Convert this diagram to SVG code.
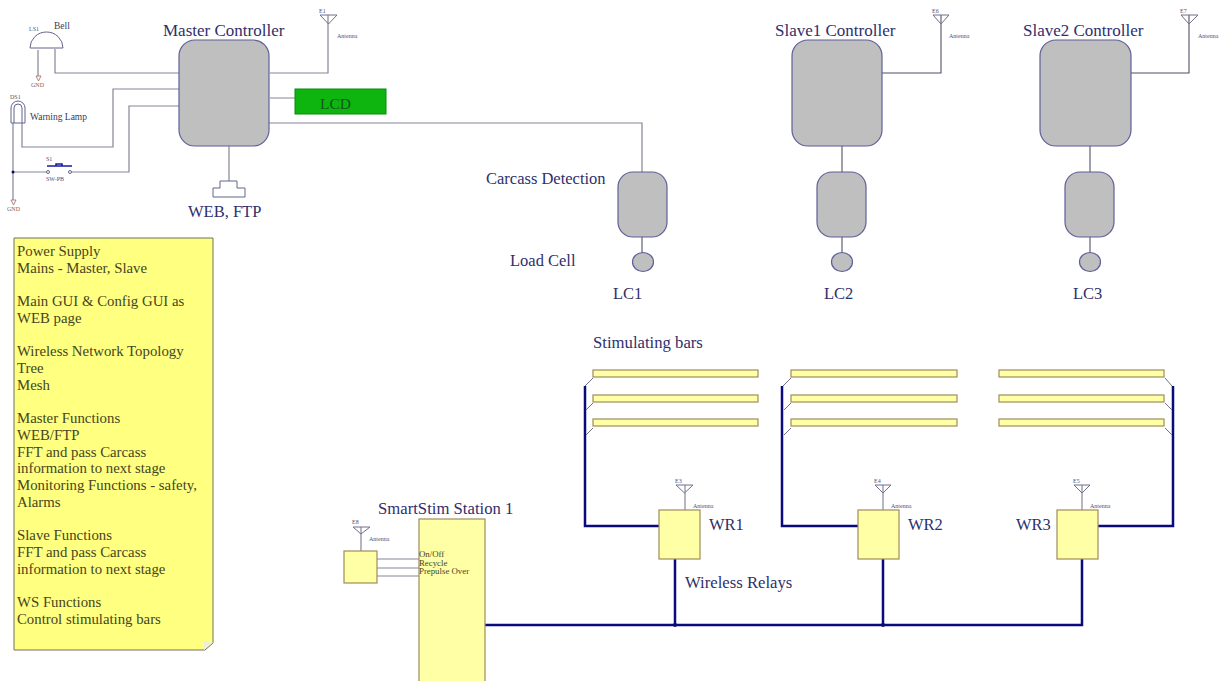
<svg xmlns="http://www.w3.org/2000/svg" width="1226" height="681" viewBox="0 0 1226 681">
<style>
text{font-family:"Liberation Serif","Times New Roman",serif}
.t{font-size:16.5px;fill:#2f2f6b}
.n{font-size:14.8px;fill:#45451f}
.s{font-size:9.500px;fill:#3a3a55}
.p{font-size:8.800px;fill:#45451f}
.x{font-size:6px;fill:#50507a}
.g{font-size:6px;fill:#8a5a50}
.w{fill:none;stroke:#85859a;stroke-width:1.2}
.d{fill:none;stroke:#50506a;stroke-width:1.1}
.b{fill:none;stroke:#0a0a7a;stroke-width:2.5}
.c{fill:#bfbfbf;stroke:#5f5f9a;stroke-width:1.2}
.y{fill:#ffffa6;stroke:#a08c5a;stroke-width:1.2}
.a{fill:none;stroke:#70708a;stroke-width:1}
.r{fill:none;stroke:#a06a60;stroke-width:.8}
</style>
<rect width="1226" height="681" fill="#fff"/>
<g id="connectors">
<path class="w" d="M55 49V73H179M179 89H113V147H22V122M179 106H129V172H70M48 172H13M13 122V200M38 50V76M229 146V181M270 73H328V15M270 98H295M269 123H642V172"/>
<path class="d" d="M642 237V253M842 146V172M842 237V253M1090 146V172M1090 237V253M882 73H941V15M1131 73H1189V15"/>
<path class="w" d="M377 559H419M377 568H419M377 576H419M361 551V527"/>
<path class="b" d="M485 625H1082V559M675 559V625M883 559V625M660 526H585V386M858 526H782V386M1098 526H1173V386"/>
<path class="a" d="M593 378L585 386M593 403L586 410M593 428L586 435M791 378L783 386M791 403L784 410M791 428L784 435M1165 378L1172 386M1165 403L1172 410M1165 428L1172 435"/>
<path class="a" d="M685 485V510M883 485V510M1082 485V510"/>
<circle cx="13" cy="172" r="1.500" fill="#0a0a7a"/>
<circle cx="675" cy="625" r="2" fill="#0a0a7a"/>
<circle cx="883" cy="625" r="2" fill="#0a0a7a"/>
</g>
<g id="bell">
<path d="M30 48A16.500 16 0 0 1 63 48Z" fill="#fff" stroke="#65658a"/>
<path class="r" d="M36 76H41L38.500 81Z"/>
<text class="x" x="29" y="31">LS1</text>
<text class="s" x="54" y="29">Bell</text>
<text class="g" x="31" y="87">GND</text>
</g>
<g id="lamp">
<path d="M11 123V108A7 7 0 0 1 25 108V123Z" fill="#fff" stroke="#65658a"/>
<path d="M14 123V108A4 4 0 0 1 22 108V123" fill="none" stroke="#65658a"/>
<text class="x" x="10" y="99">DS1</text>
<text class="s" x="30" y="120">Warning Lamp</text>
</g>
<g id="switch">
<path d="M47 166H72M56 166V164H62V166" fill="none" stroke="#1a1aa0" stroke-width="1.600"/>
<circle cx="48" cy="172" r="1.500" fill="#fff" stroke="#65658a"/>
<circle cx="70" cy="172" r="1.500" fill="#fff" stroke="#65658a"/>
<text class="x" x="46" y="161">S1</text>
<text class="x" x="46" y="181">SW-PB</text>
</g>
<g id="gnd">
<path class="r" d="M11 200H16L13.500 205Z"/>
<text class="g" x="7" y="211">GND</text>
</g>
<g id="master">
<rect class="c" x="179" y="40" width="90" height="106" rx="16"/>
<text class="t" x="163" y="36" style="font-size:17px">Master Controller</text>
</g>
<g id="antenna1">
<path class="a" d="M320 15H337L328.500 24Z"/>
<text class="x" x="319" y="13">E1</text>
<text class="x" x="337" y="38">Antenna</text>
</g>
<g id="lcd">
<rect x="295" y="89" width="91" height="25" fill="#0fb50f" stroke="#0a8a0a"/>
<text x="320" y="109" font-size="15.500" fill="#0d5a1a">LCD</text>
</g>
<g id="web">
<path d="M220 181H237V188H245V197H213V188H220Z" fill="#fff" stroke="#65658a"/>
<text class="t" x="188" y="217">WEB, FTP</text>
</g>
<g id="note">
<path d="M14 238H213V643L205 650H14Z" fill="#ffff80" stroke="#707060" stroke-width="1"/>
<path d="M204 650L204 641L213 642Z" fill="#eeeeda"/>
<text class="n"><tspan x="17" y="256">Power Supply</tspan><tspan x="17" y="272.700">Mains - Master, Slave</tspan><tspan x="17" y="306">Main GUI &amp; Config GUI as</tspan><tspan x="17" y="323">WEB page</tspan><tspan x="17" y="356">Wireless Network Topology</tspan><tspan x="17" y="373">Tree</tspan><tspan x="17" y="389.500">Mesh</tspan><tspan x="17" y="423">Master Functions</tspan><tspan x="17" y="440">WEB/FTP</tspan><tspan x="17" y="456.500">FFT and pass Carcass</tspan><tspan x="17" y="473">information to next stage</tspan><tspan x="17" y="490">Monitoring Functions - safety,</tspan><tspan x="17" y="506.500">Alarms</tspan><tspan x="17" y="540">Slave Functions</tspan><tspan x="17" y="556.500">FFT and pass Carcass</tspan><tspan x="17" y="573.500">information to next stage</tspan><tspan x="17" y="607">WS Functions</tspan><tspan x="17" y="623.500">Control stimulating bars</tspan></text>
</g>
<g id="carcass">
<rect class="c" x="618" y="172" width="49" height="65" rx="15"/>
<text class="t" x="486" y="184">Carcass Detection</text>
</g>
<g id="lc1">
<ellipse class="c" cx="643" cy="262" rx="10.500" ry="9.500"/>
<text class="t" x="510" y="266">Load Cell</text>
<text class="t" x="613" y="299">LC1</text>
</g>
<g id="slave1">
<rect class="c" x="792" y="40" width="90" height="106" rx="16"/>
<text class="t" x="775" y="36" style="font-size:17px">Slave1 Controller</text>
</g>
<g id="antenna2">
<path class="a" d="M933 15H949L941 24Z"/>
<text class="x" x="932" y="13">E6</text>
<text class="x" x="949" y="38">Antenna</text>
</g>
<g id="detector2"><rect class="c" x="817" y="172" width="49" height="65" rx="15"/></g>
<g id="lc2">
<ellipse class="c" cx="842" cy="262" rx="10.500" ry="9.500"/>
<text class="t" x="824" y="299">LC2</text>
</g>
<g id="slave2">
<rect class="c" x="1040" y="40" width="91" height="106" rx="16"/>
<text class="t" x="1023" y="36" style="font-size:17px">Slave2 Controller</text>
</g>
<g id="antenna3">
<path class="a" d="M1181 15H1198L1189 24Z"/>
<text class="x" x="1180" y="13">E7</text>
<text class="x" x="1198" y="38">Antenna</text>
</g>
<g id="detector3"><rect class="c" x="1065" y="172" width="49" height="65" rx="15"/></g>
<g id="lc3">
<ellipse class="c" cx="1090" cy="262" rx="10.500" ry="9.500"/>
<text class="t" x="1073" y="299">LC3</text>
</g>
<g id="bars">
<text class="t" x="593" y="348" style="font-size:16.7px">Stimulating bars</text>
<rect class="y" x="593" y="370" width="165" height="7"/>
<rect class="y" x="593" y="395" width="165" height="7"/>
<rect class="y" x="593" y="419" width="165" height="7"/>
<rect class="y" x="791" y="370" width="166" height="7"/>
<rect class="y" x="791" y="395" width="166" height="7"/>
<rect class="y" x="791" y="419" width="166" height="7"/>
<rect class="y" x="999" y="370" width="165" height="7"/>
<rect class="y" x="999" y="395" width="165" height="7"/>
<rect class="y" x="999" y="419" width="165" height="7"/>
</g>
<g id="wr1">
<rect class="y" x="659" y="510" width="41" height="49"/>
<path class="a" d="M676 485H693L684.500 493Z"/>
<text class="x" x="675" y="483">E3</text>
<text class="x" x="693" y="508">Antenna</text>
<text class="t" x="709" y="530">WR1</text>
</g>
<g id="wr2">
<rect class="y" x="858" y="510" width="41" height="49"/>
<path class="a" d="M875 485H891L883 493Z"/>
<text class="x" x="874" y="483">E4</text>
<text class="x" x="891" y="508">Antenna</text>
<text class="t" x="908" y="530">WR2</text>
</g>
<g id="wr3">
<rect class="y" x="1057" y="510" width="41" height="49"/>
<path class="a" d="M1074 485H1090L1082 493Z"/>
<text class="x" x="1073" y="483">E5</text>
<text class="x" x="1090" y="508">Antenna</text>
<text class="t" x="1016" y="530">WR3</text>
</g>
<text class="t" x="685" y="588" style="font-size:16.7px">Wireless Relays</text>
<g id="station">
<rect class="y" x="419" y="519" width="66" height="170"/>
<text class="t" x="378" y="514" style="font-size:16.7px">SmartStim Station 1</text>
<text class="p" x="419" y="557">On/Off</text>
<text class="p" x="419" y="566">Recycle</text>
<text class="p" x="419" y="574">Prepulse Over</text>
</g>
<g id="ws">
<rect class="y" x="344" y="551" width="33" height="32"/>
<path class="a" d="M353 527H370L361 534Z"/>
<text class="x" x="352" y="524">E8</text>
<text class="x" x="369" y="541">Antenna</text>
</g>
</svg>
